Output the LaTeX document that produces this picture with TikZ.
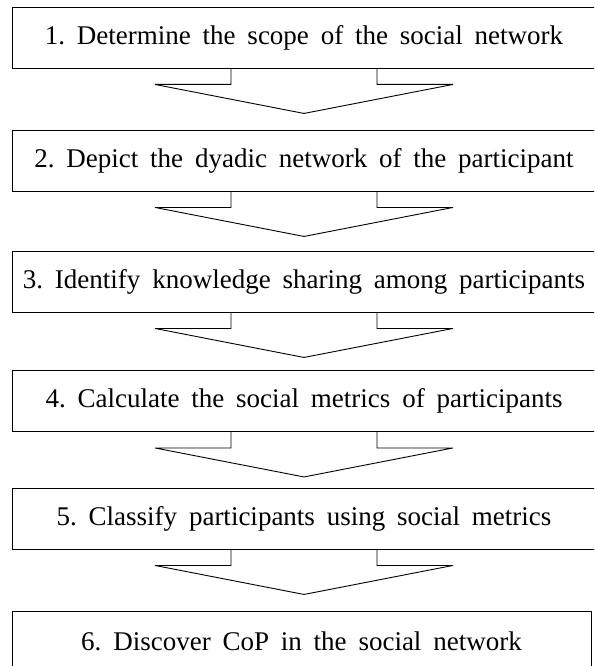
\documentclass[tikz,border=0pt]{standalone}
\usepackage{fontspec}
\setmainfont{Liberation Serif}[WordSpace=1.75]
\frenchspacing
\begin{document}
\begin{tikzpicture}[x=1pt,y=-1pt,every node/.style={font=\fontsize{27}{30}\selectfont}]
\tikzset{etape/.style={draw,line width=0.9pt,minimum width=584pt,minimum height=61pt,inner sep=0pt}}
\clip (0,0) rectangle (594,666);
\fill[white] (0,0) rectangle (594,666);
\foreach \i/\y/\t in {1/37.5/{1. Determine the scope of the social network},
                      2/160.5/{2. Depict the dyadic network of the participant},
                      3/281.5/{3. Identify knowledge sharing among participants},
                      4/401/{4. Calculate the social metrics of participants},
                      5/518.5/{5. Classify participants using social metrics}}
  \node[etape] (b\i) at (304, \y) {\t};
\node[etape,minimum width=579pt] (b6) at (301.5, 641.5) {6. Discover CoP in the social network};
% fleches entre les etapes
\foreach \i in {1,...,5}
  \draw[line width=0.9pt,line join=miter] (b\i.south) ++(-73,0) -- ++(0,16) -- ++(-76,0)
    -- ++(149,29) -- ++(149,-29) -- ++(-76,0) -- ++(0,-16);
\end{tikzpicture}
\end{document}
